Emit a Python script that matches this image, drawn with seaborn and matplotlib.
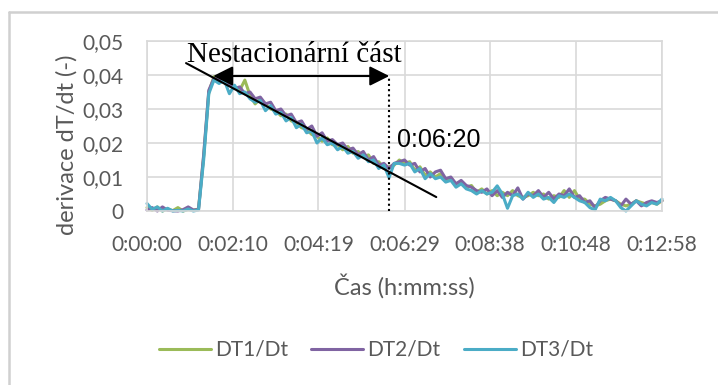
import numpy as np
import pandas as pd
import matplotlib
matplotlib.use("Agg")
import matplotlib.pyplot as plt
from matplotlib.lines import Line2D
import seaborn as sns

# Time axis in seconds (0:00:00 .. 0:12:58)
time_s = np.linspace(0, 778, 101)

dt1 = [0.0010, 0.0002, 0.0012, 0.0000, 0.0006, 0.0001, 0.0010, 0.0000, 0.0004, 0.0002,
       0.0006, 0.0160, 0.0350, 0.0395, 0.0380, 0.0390, 0.0370, 0.0365, 0.0355, 0.0385,
       0.0340, 0.0315, 0.0330, 0.0315, 0.0300, 0.0295, 0.0280, 0.0285, 0.0265, 0.0260,
       0.0245, 0.0240, 0.0225, 0.0220, 0.0205, 0.0215, 0.0195, 0.0195, 0.0180, 0.0190,
       0.0170, 0.0175, 0.0160, 0.0165, 0.0140, 0.0145, 0.0125, 0.0130, 0.0135, 0.0150,
       0.0140, 0.0145, 0.0120, 0.0130, 0.0105, 0.0115, 0.0100, 0.0110, 0.0090, 0.0095,
       0.0080, 0.0085, 0.0070, 0.0075, 0.0055, 0.0065, 0.0050, 0.0060, 0.0045, 0.0055,
       0.0045, 0.0060, 0.0045, 0.0040, 0.0045, 0.0055, 0.0045, 0.0050, 0.0035, 0.0045,
       0.0040, 0.0060, 0.0040, 0.0060, 0.0035, 0.0035, 0.0020, 0.0015, 0.0020, 0.0030,
       0.0035, 0.0030, 0.0020, 0.0015, 0.0020, 0.0030, 0.0025, 0.0020, 0.0025, 0.0020,
       0.0030]

dt2 = [0.0003, 0.0010, 0.0000, 0.0012, 0.0002, 0.0001, 0.0000, 0.0004, 0.0012, 0.0003,
       0.0004, 0.0165, 0.0355, 0.0390, 0.0385, 0.0380, 0.0375, 0.0360, 0.0365, 0.0345,
       0.0350, 0.0330, 0.0335, 0.0315, 0.0320, 0.0295, 0.0300, 0.0280, 0.0285, 0.0260,
       0.0265, 0.0240, 0.0250, 0.0220, 0.0230, 0.0205, 0.0210, 0.0195, 0.0200, 0.0180,
       0.0185, 0.0165, 0.0175, 0.0150, 0.0160, 0.0135, 0.0140, 0.0125, 0.0140, 0.0145,
       0.0150, 0.0135, 0.0140, 0.0115, 0.0125, 0.0100, 0.0115, 0.0120, 0.0095, 0.0100,
       0.0080, 0.0090, 0.0075, 0.0070, 0.0060, 0.0055, 0.0065, 0.0045, 0.0060, 0.0040,
       0.0055, 0.0045, 0.0068, 0.0035, 0.0050, 0.0045, 0.0060, 0.0040, 0.0055, 0.0035,
       0.0050, 0.0045, 0.0065, 0.0040, 0.0045, 0.0025, 0.0030, 0.0010, 0.0030, 0.0040,
       0.0035, 0.0030, 0.0015, 0.0035, 0.0020, 0.0030, 0.0015, 0.0025, 0.0030, 0.0025,
       0.0030]

dt3 = [0.0022, 0.0005, 0.0012, 0.0000, 0.0008, 0.0000, 0.0002, 0.0000, 0.0006, 0.0000,
       0.0003, 0.0150, 0.0345, 0.0385, 0.0375, 0.0385, 0.0345, 0.0370, 0.0345, 0.0350,
       0.0330, 0.0320, 0.0325, 0.0295, 0.0310, 0.0285, 0.0290, 0.0265, 0.0275, 0.0245,
       0.0255, 0.0230, 0.0235, 0.0200, 0.0215, 0.0195, 0.0200, 0.0180, 0.0190, 0.0170,
       0.0175, 0.0155, 0.0165, 0.0145, 0.0150, 0.0125, 0.0135, 0.0098, 0.0140, 0.0140,
       0.0135, 0.0140, 0.0115, 0.0125, 0.0095, 0.0110, 0.0095, 0.0100, 0.0085, 0.0090,
       0.0070, 0.0080, 0.0065, 0.0060, 0.0050, 0.0060, 0.0050, 0.0055, 0.0074, 0.0050,
       0.0008, 0.0045, 0.0050, 0.0035, 0.0055, 0.0040, 0.0050, 0.0035, 0.0040, 0.0025,
       0.0045, 0.0040, 0.0050, 0.0040, 0.0030, 0.0025, 0.0010, 0.0003, 0.0035, 0.0030,
       0.0040, 0.0030, 0.0010, 0.0000, 0.0015, 0.0030, 0.0020, 0.0015, 0.0025, 0.0020,
       0.0035]

series_names = ["DT1/Dt", "DT2/Dt", "DT3/Dt"]
series_colors = ["#9BBB59", "#8064A2", "#4BACC6"]

x_ticks = [0, 130, 259, 389, 518, 648, 778]
x_tick_labels = ["0:00:00", "0:02:10", "0:04:19", "0:06:29", "0:08:38", "0:10:48", "0:12:58"]
y_ticks = [0, 0.01, 0.02, 0.03, 0.04, 0.05]
y_tick_labels = ["0", "0,01", "0,02", "0,03", "0,04", "0,05"]

# Annotation geometry (data coordinates: seconds, dT/dt)
trend_x = [59, 437]
trend_y = [0.0435, 0.0041]
span_start, span_end, span_level = 100, 366, 0.0397

df = pd.DataFrame({
    "t": np.tile(time_s, 3),
    "value": dt1 + dt2 + dt3,
    "series": np.repeat(series_names, len(time_s)),
})

sns.set_theme(style="white")
plt.rcParams["font.family"] = ["Lato", "DejaVu Sans"]

GRAY_TEXT = "#595959"
GRID = "#d9d9d9"

fig = plt.figure(figsize=(7.18, 3.85), dpi=100)
ax = fig.add_axes([147 / 718, 1 - 211 / 385, 515 / 718, 170 / 385])

sns.lineplot(data=df, x="t", y="value", hue="series", hue_order=series_names,
             palette=series_colors, linewidth=2.2, ax=ax, legend=True)
for ln in ax.lines:
    ln.set_clip_on(False)

ax.set_xlim(0, 778)
ax.set_ylim(0, 0.05)
ax.set_xticks(x_ticks)
ax.set_xticklabels(x_tick_labels)
ax.set_yticks(y_ticks)
ax.set_yticklabels(y_tick_labels)
ax.tick_params(axis="both", length=0, labelsize=15, colors=GRAY_TEXT)
ax.tick_params(axis="x", pad=17.5)
ax.tick_params(axis="y", pad=17)
ax.grid(True, color=GRID, linewidth=1.2)
ax.set_axisbelow(True)
for sp in ax.spines.values():
    sp.set_color(GRID)
    sp.set_linewidth(1.2)

ax.set_xlabel("Čas (h:mm:ss)", fontsize=17, color=GRAY_TEXT, labelpad=13)
ax.set_ylabel("derivace dT/dt (-)", fontsize=17, color=GRAY_TEXT)
ax.yaxis.set_label_coords(-0.134, 0.388)

# Trend line, span arrow and the end-of-span marker
ax.plot(trend_x, trend_y, color="black", linewidth=1.5, zorder=5)
ax.annotate("", xy=(span_start, span_level), xytext=(span_end, span_level),
            arrowprops=dict(arrowstyle="<|-|>,head_length=0.6,head_width=0.3",
                            mutation_scale=20, color="black", lw=1.5,
                            shrinkA=0, shrinkB=0), zorder=6)
ax.plot([span_end, span_end], [0, span_level], color="black", linewidth=1.5,
        linestyle=(0, (1, 1.5)), zorder=6)
ax.text(60, 0.0438, "Nestacionární část", fontsize=21, family="Liberation Serif",
        color="black", va="baseline", ha="left", zorder=7)
ax.text(378, 0.0188, "0:06:20", fontsize=18, family="Liberation Sans",
        color="black", va="baseline", ha="left", zorder=7)

handles, labels = ax.get_legend_handles_labels()
ax.get_legend().remove()
fig.legend(handles, labels, loc="center", bbox_to_anchor=(376 / 718, 1 - 350 / 385),
           ncol=3, frameon=False, fontsize=15, labelcolor=GRAY_TEXT,
           handlelength=2.5, handletextpad=0.2, columnspacing=1.1)

# Chart frame
frame_kw = dict(transform=fig.transFigure, color="#d0d0d0", linewidth=1.8)
fig.add_artist(Line2D([9 / 718, 9 / 718], [0, 1 - 12 / 385], **frame_kw))
fig.add_artist(Line2D([9 / 718, 1], [1 - 12 / 385, 1 - 12 / 385], **frame_kw))

fig.savefig("out.png", dpi=100)
